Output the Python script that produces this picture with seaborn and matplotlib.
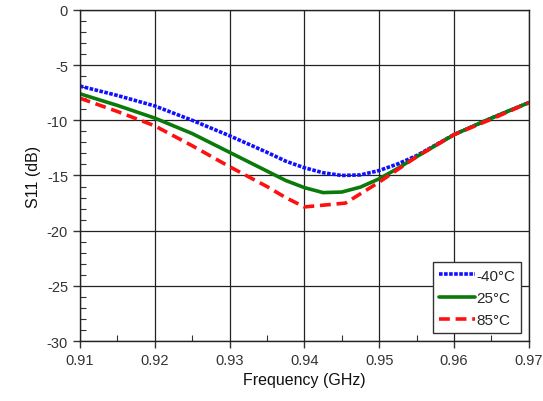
import pandas as pd
import matplotlib.pyplot as plt
import seaborn as sns
from matplotlib.ticker import MultipleLocator

# Data
freq = [0.91, 0.915, 0.92, 0.925, 0.93, 0.935, 0.9375, 0.94, 0.9425, 0.945,
        0.9475, 0.95, 0.9525, 0.955, 0.96, 0.965, 0.97]
s11_m40 = [-6.9, -7.75, -8.7, -10.0, -11.4, -12.9, -13.7, -14.3, -14.75, -15.0,
           -14.95, -14.55, -13.95, -13.2, -11.3, -9.8, -8.4]
s11_25 = [-7.6, -8.65, -9.8, -11.2, -12.9, -14.6, -15.45, -16.1, -16.55, -16.5,
          -16.05, -15.3, -14.35, -13.3, -11.3, -9.8, -8.4]
freq_85 = [0.91, 0.915, 0.92, 0.925, 0.93, 0.935, 0.9375, 0.94, 0.9455, 0.95,
           0.955, 0.96, 0.965, 0.97]
s11_85 = [-8.0, -9.2, -10.5, -12.3, -14.2, -16.0, -17.0, -17.85, -17.5, -15.6,
          -13.3, -11.3, -9.9, -8.4]
labels = ["-40\u00b0C", "25\u00b0C", "85\u00b0C"]

sns.set_style("white")
plt.rcParams["font.family"] = ["Liberation Sans", "DejaVu Sans"]
plt.rcParams["axes.unicode_minus"] = False

fig = plt.figure(figsize=(5.43, 4.02), dpi=100)
ax = fig.add_axes([0.147, 0.149, 0.827, 0.824])

sns.lineplot(x=freq, y=s11_m40, ax=ax, color="#1010ff", lw=2.6,
             linestyle=(0, (1, 0.4)), label=labels[0])
sns.lineplot(x=freq, y=s11_25, ax=ax, color="#0a7a0a", lw=2.6, label=labels[1])
sns.lineplot(x=freq_85, y=s11_85, ax=ax, color="#ff1010", lw=2.6,
             linestyle=(0, (3, 1.6)), label=labels[2])

ax.set_xlim(0.91, 0.97)
ax.set_ylim(-30, 0)
ax.xaxis.set_major_locator(MultipleLocator(0.01))
ax.xaxis.set_minor_locator(MultipleLocator(0.005))
ax.yaxis.set_major_locator(MultipleLocator(5))
ax.yaxis.set_minor_locator(MultipleLocator(1))
ax.xaxis.set_major_formatter(plt.FuncFormatter(lambda v, p: f"{v:.2f}"))

ax.grid(True, which="major", color="#222222", lw=0.9)
ax.tick_params(which="major", direction="out", length=5, width=1, labelsize=10.5, colors="#333333")
ax.tick_params(which="minor", direction="in", length=4, width=0.8, color="#333333")
ax.tick_params(axis="both", which="both", bottom=True, left=True, labelcolor="#333333")
for s in ax.spines.values():
    s.set_color("#222222")
    s.set_linewidth(1)

ax.set_xlabel("Frequency (GHz)", fontsize=11.5, color="#111111")
ax.set_ylabel("S11 (dB)", fontsize=11.5, color="#111111")

leg = ax.legend(loc="lower right", fontsize=11, frameon=True, fancybox=False,
                edgecolor="#333333", framealpha=1, handlelength=2.3,
                handletextpad=0.1, borderaxespad=0.5, labelspacing=0.55,
                borderpad=0.4)
leg.get_frame().set_linewidth(1)

fig.savefig("out.png", dpi=100)
